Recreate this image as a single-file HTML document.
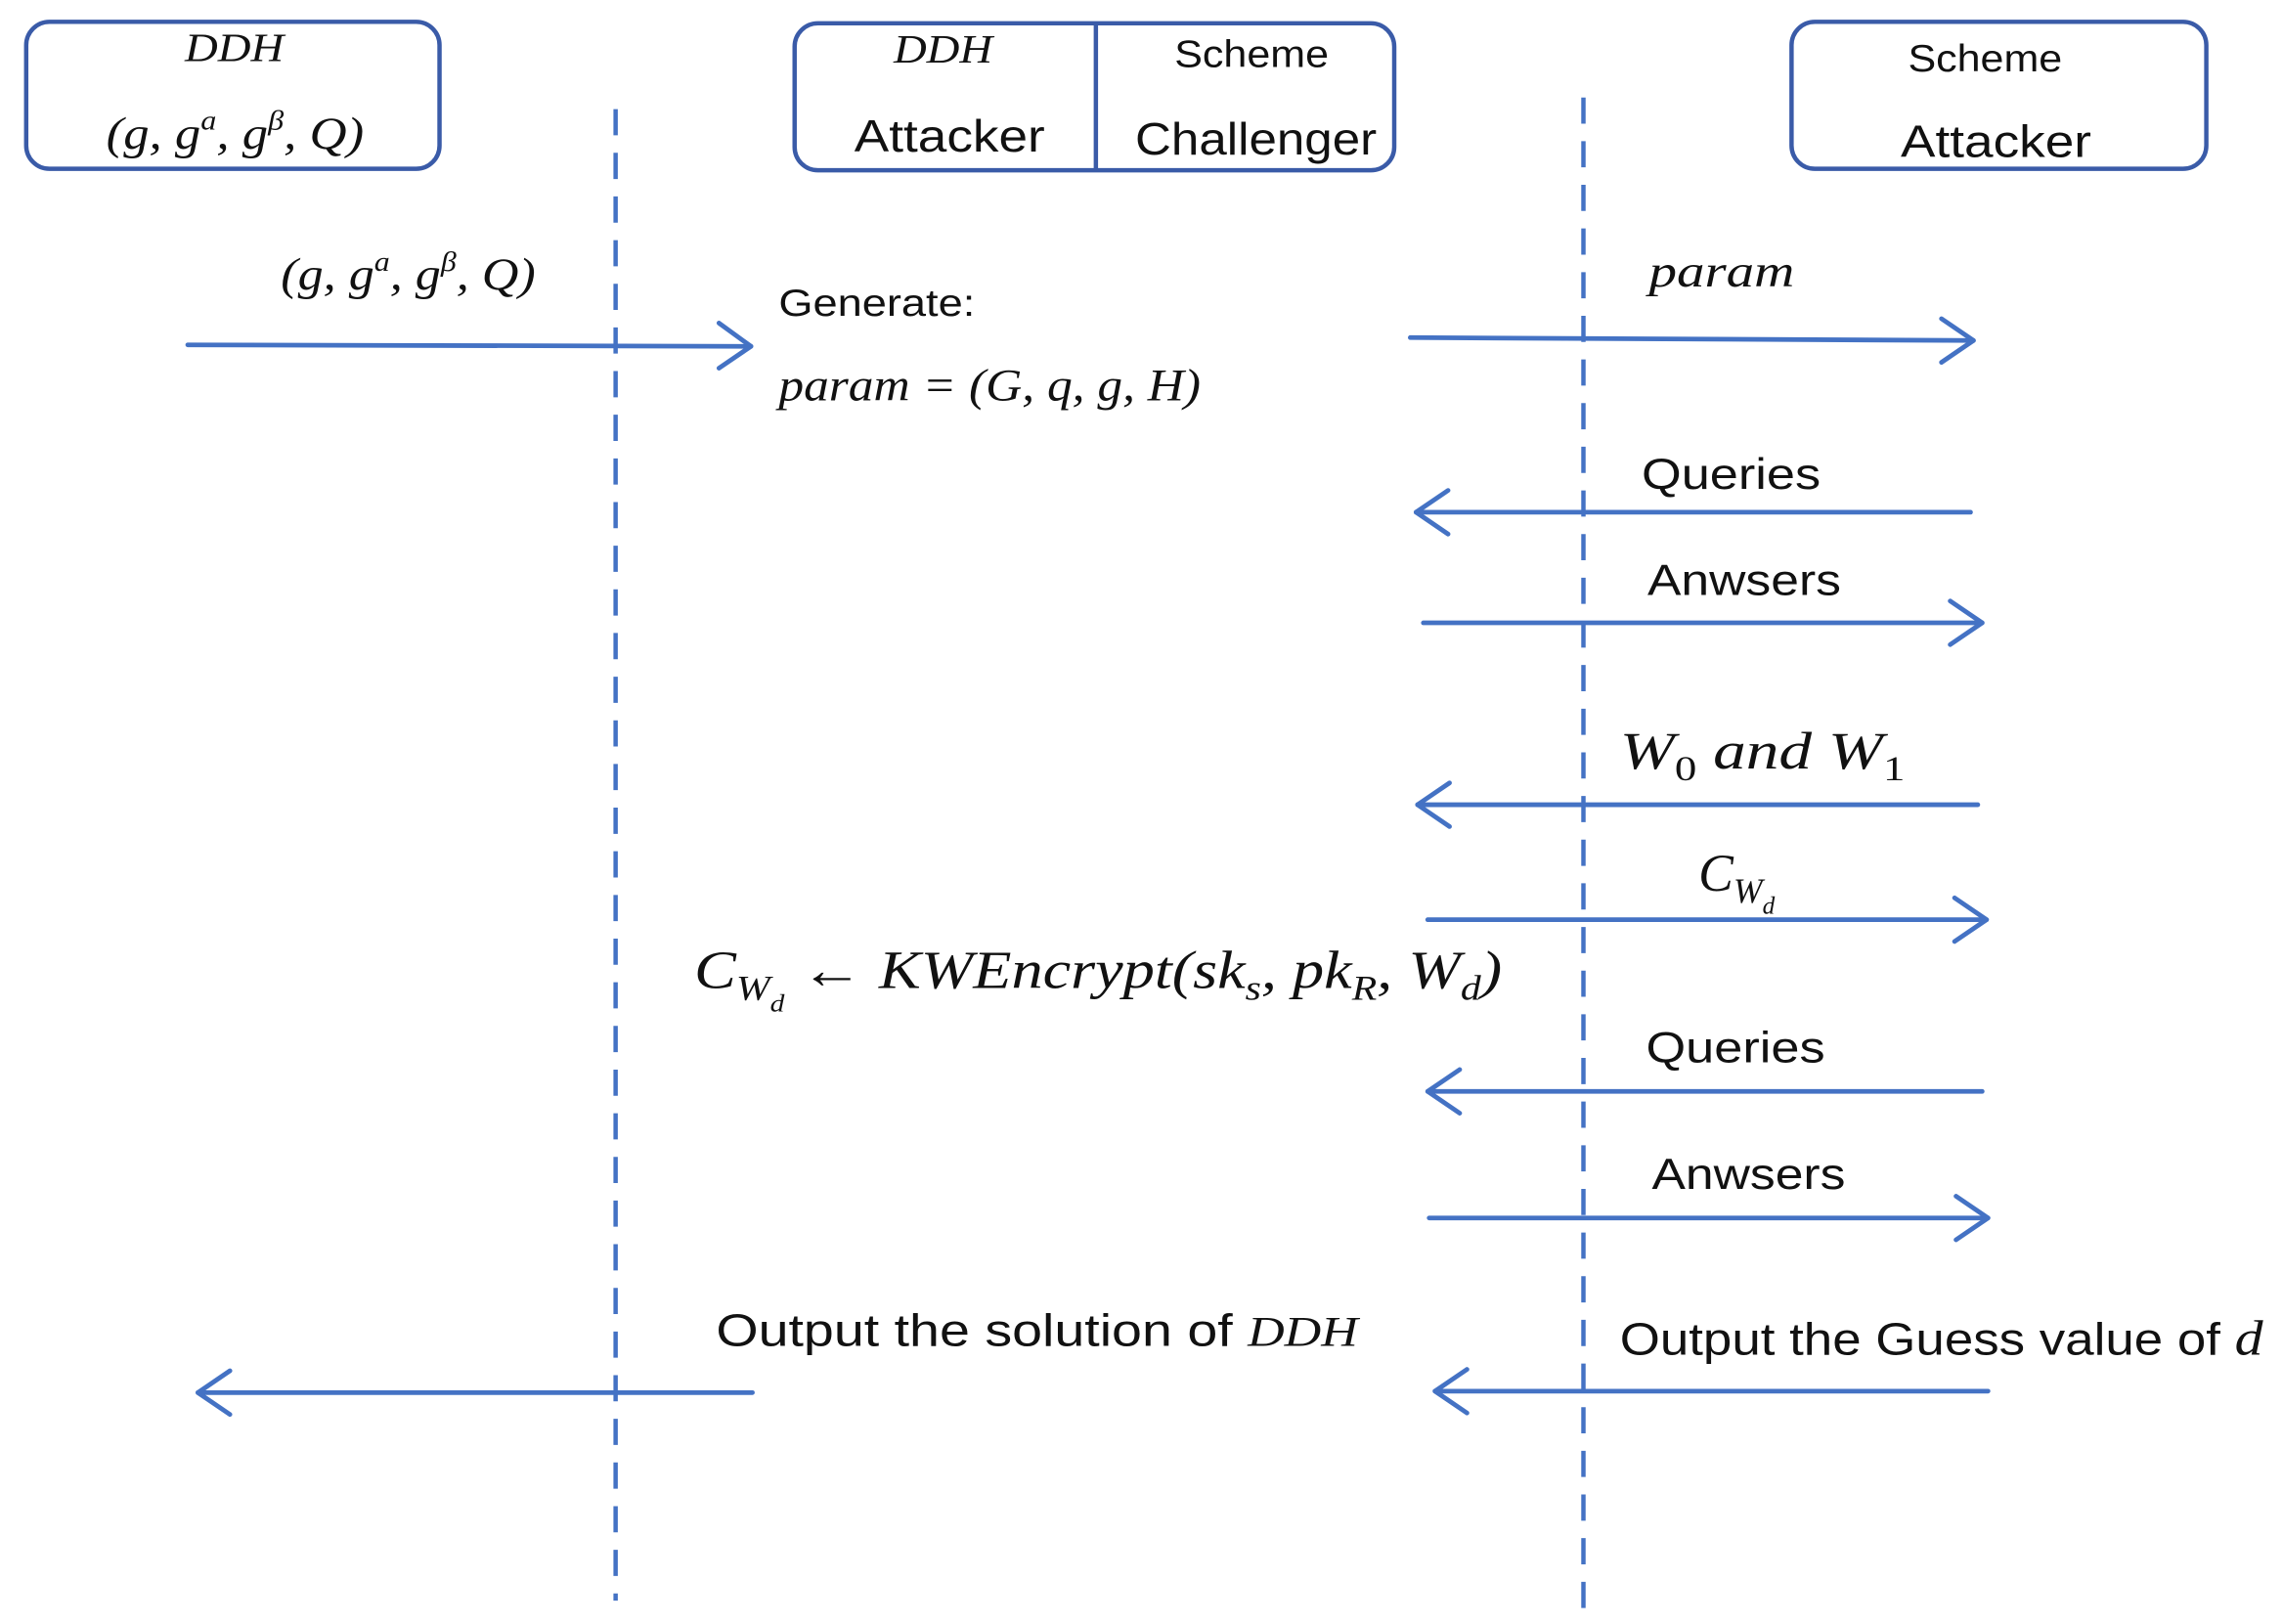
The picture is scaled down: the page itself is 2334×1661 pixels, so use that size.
<!DOCTYPE html>
<html><head><meta charset="utf-8"><style>
html,body{margin:0;padding:0;background:#fff;}
svg{display:block;}
.s{font-family:"Liberation Sans",sans-serif;fill:#111;}
.m{font-family:"Liberation Serif",serif;font-style:italic;fill:#111;}
</style></head><body>
<svg width="2334" height="1661" viewBox="0 0 1568 1116" preserveAspectRatio="none" xmlns="http://www.w3.org/2000/svg">
<g fill="none" stroke="#3a5ba8" stroke-width="3">
<rect x="18" y="15" width="284" height="101" rx="16"/>
<rect x="546" y="16" width="412" height="101" rx="16"/>
<line x1="753" y1="16" x2="753" y2="117"/>
<rect x="1231" y="15" width="285" height="101" rx="16"/>
</g>
<g stroke="#4472c4" stroke-width="3" stroke-dasharray="18 12">
<line x1="423" y1="75" x2="423" y2="1100"/>
<line x1="1088" y1="67" x2="1088" y2="1105"/>
</g>
<g fill="none" stroke="#4472c4" stroke-width="3.2" stroke-linecap="round" stroke-linejoin="round">
<line x1="129" y1="237" x2="516" y2="238"/><polyline points="494,222 516,238 494,253"/>
<line x1="969" y1="232" x2="1356" y2="234"/><polyline points="1334,219 1356,234 1334,249"/>
<line x1="1354" y1="352" x2="973" y2="352"/><polyline points="995,337 973,352 995,367"/>
<line x1="978" y1="428" x2="1362" y2="428"/><polyline points="1340,413 1362,428 1340,443"/>
<line x1="1359" y1="553" x2="974" y2="553"/><polyline points="996,538 974,553 996,568"/>
<line x1="981" y1="632" x2="1365" y2="632"/><polyline points="1343,617 1365,632 1343,647"/>
<line x1="1362" y1="750" x2="981" y2="750"/><polyline points="1003,735 981,750 1003,765"/>
<line x1="982" y1="837" x2="1366" y2="837"/><polyline points="1344,822 1366,837 1344,852"/>
<line x1="517" y1="957" x2="136" y2="957"/><polyline points="158,942 136,957 158,972"/>
<line x1="1366" y1="956" x2="986" y2="956"/><polyline points="1008,941 986,956 1008,971"/>
</g>
<text class="m" x="127" y="42" font-size="28" textLength="68" lengthAdjust="spacingAndGlyphs">DDH</text>
<text class="m" x="73" y="102" font-size="31" textLength="177" lengthAdjust="spacingAndGlyphs">(g, g<tspan font-size="19" dy="-13">a</tspan><tspan dy="13">, g</tspan><tspan font-size="19" dy="-13">β</tspan><tspan dy="13">, Q)</tspan></text>
<text class="m" x="614" y="43" font-size="28" textLength="68" lengthAdjust="spacingAndGlyphs">DDH</text>
<text class="s" x="587" y="104" font-size="31" textLength="131" lengthAdjust="spacingAndGlyphs">Attacker</text>
<text class="s" x="807" y="46" font-size="26" textLength="106" lengthAdjust="spacingAndGlyphs">Scheme</text>
<text class="s" x="780" y="106" font-size="31" textLength="166" lengthAdjust="spacingAndGlyphs">Challenger</text>
<text class="s" x="1311" y="49" font-size="26" textLength="106" lengthAdjust="spacingAndGlyphs">Scheme</text>
<text class="s" x="1306" y="108" font-size="31" textLength="131" lengthAdjust="spacingAndGlyphs">Attacker</text>
<text class="m" x="193" y="199" font-size="31" textLength="175" lengthAdjust="spacingAndGlyphs">(g, g<tspan font-size="19" dy="-13">a</tspan><tspan dy="13">, g</tspan><tspan font-size="19" dy="-13">β</tspan><tspan dy="13">, Q)</tspan></text>
<text class="s" x="535" y="217" font-size="26" textLength="135" lengthAdjust="spacingAndGlyphs">Generate:</text>
<text class="m" x="535" y="275" font-size="31" textLength="290" lengthAdjust="spacingAndGlyphs">param = (G, q, g, H)</text>
<text class="m" x="1133" y="197" font-size="31" textLength="100" lengthAdjust="spacingAndGlyphs">param</text>
<text class="s" x="1128" y="336" font-size="30" textLength="123" lengthAdjust="spacingAndGlyphs">Queries</text>
<text class="s" x="1132" y="409" font-size="30" textLength="133" lengthAdjust="spacingAndGlyphs">Anwsers</text>
<text class="m" x="1113" y="528" font-size="36" textLength="196" lengthAdjust="spacingAndGlyphs">W<tspan font-style="normal" font-size="24" dy="8">0</tspan><tspan dy="-8"> and W</tspan><tspan font-style="normal" font-size="24" dy="8">1</tspan></text>
<text class="m" x="1167" y="612" font-size="36">C<tspan font-size="24" dy="8">W</tspan><tspan font-size="17" dy="8">d</tspan></text>
<text class="m" x="477" y="679" font-size="37" textLength="555" lengthAdjust="spacingAndGlyphs">C<tspan font-size="24" dy="8">W</tspan><tspan font-size="17" dy="8">d</tspan><tspan font-style="normal" dy="-16"> ← </tspan>KWEncrypt(sk<tspan font-size="24" dy="8">s</tspan><tspan dy="-8">, pk</tspan><tspan font-size="24" dy="8">R</tspan><tspan dy="-8">, W</tspan><tspan font-size="24" dy="8">d</tspan><tspan dy="-8">)</tspan></text>
<text class="s" x="1131" y="730" font-size="30" textLength="123" lengthAdjust="spacingAndGlyphs">Queries</text>
<text class="s" x="1135" y="817" font-size="30" textLength="133" lengthAdjust="spacingAndGlyphs">Anwsers</text>
<text class="s" x="492" y="925" font-size="31" textLength="441" lengthAdjust="spacingAndGlyphs">Output the solution of  <tspan class="m" font-size="29">DDH</tspan></text>
<text class="s" x="1113" y="931" font-size="31" textLength="442" lengthAdjust="spacingAndGlyphs">Output the Guess value of <tspan class="m" font-size="34">d</tspan></text>
</svg>
</body></html>
